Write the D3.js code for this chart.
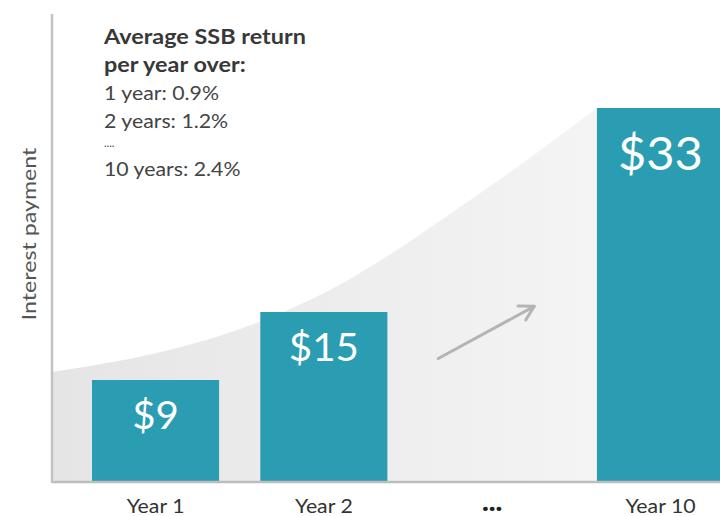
<!DOCTYPE html>
<html><head><meta charset="utf-8">
<script src="https://cdn.jsdelivr.net/npm/d3@7"></script>
<style>body{margin:0;background:#fff} svg{display:block}</style>
</head><body><svg id="c" width="720" height="516"></svg>
<script>
// ---- data ----
const categories = ["Year 1", "Year 2", "...", "Year 10"];
const values = [9, 15, null, 33];
const valueLabels = ["$9", "$15", null, "$33"];
// decorative growth curve (category index, dollars)
const curveIndex = [-0.615, -0.389, 0.104, 0.644, 1.037, 1.453, 1.809, 2.207, 2.622];
const curveValue = [9.71, 10.24, 11.74, 14.29, 16.94, 20.65, 24.26, 28.41, 33.0];
const arrowFrom = [1.68, 10.9];
const arrowTo = [2.25, 15.5];
const yLabel = "Interest payment";
const noteTitle = ["Average SSB return", "per year over:"];
const noteLines = ["1 year: 0.9%", "2 years: 1.2%", "....", "10 years: 2.4%"];

// ---- layout ----
const W = 720, H = 516;
const axisX = 52, baseY = 482, topY = 14;
const svg = d3.select("#c");
const font = "Lato, 'Open Sans', sans-serif";

function widen(sel, f) {
  sel.each(function () {
    const n = this.getComputedTextLength();
    d3.select(this).attr("textLength", n * f).attr("lengthAdjust", "spacingAndGlyphs");
  });
}

const x = d3.scaleBand().domain(categories).range([92, 724]).paddingInner(0.245).paddingOuter(0);
const xi = d3.scaleLinear().domain([0, 3])
  .range([x(categories[0]) + x.bandwidth() / 2, x(categories[3]) + x.bandwidth() / 2]);
const y = d3.scaleLinear().domain([0, 33]).range([baseY, 108]);

// gradient
const defs = svg.append("defs");
const g = defs.append("linearGradient").attr("id", "gr").attr("x1", "0").attr("x2", "1").attr("y1", "0").attr("y2", "0");
g.append("stop").attr("offset", "0").attr("stop-color", "#e5e5e5");
g.append("stop").attr("offset", "1").attr("stop-color", "#f4f4f4");

defs.append("marker").attr("id", "ah").attr("viewBox", "0 0 20 20")
  .attr("refX", 17).attr("refY", 10).attr("markerWidth", 20).attr("markerHeight", 20)
  .attr("markerUnits", "userSpaceOnUse").attr("orient", "auto")
  .append("path").attr("d", "M3,2 L17,10 L3,18").attr("fill", "none")
  .attr("stroke", "#b4b4b4").attr("stroke-width", 3).attr("stroke-linecap", "round").attr("stroke-linejoin", "round");

// area
const pts = curveIndex.map((d, i) => [d, curveValue[i]]);
const area = d3.area().x(d => xi(d[0])).y0(y(0)).y1(d => y(d[1])).curve(d3.curveMonotoneX);
svg.append("path").datum(pts).attr("d", area).attr("fill", "url(#gr)");

// bars
const bars = categories.map((c, i) => ({ c, v: values[i], l: valueLabels[i] })).filter(d => d.v != null);
svg.selectAll("rect.bar").data(bars).enter().append("rect")
  .attr("class", "bar")
  .attr("x", d => x(d.c)).attr("width", x.bandwidth())
  .attr("y", d => y(d.v)).attr("height", d => y(0) - y(d.v))
  .attr("fill", "#2a9db2");

const vals = svg.selectAll("text.val").data(bars).enter().append("text")
  .attr("class", "val")
  .attr("x", d => x(d.c) + x.bandwidth() / 2)
  .attr("y", d => y(d.v) + (d.v > 30 ? 62 : 49))
  .attr("text-anchor", "middle")
  .attr("font-family", font)
  .attr("font-size", d => d.v > 30 ? 46 : 38)
  .attr("fill", "#fff")
  .text(d => d.l);
widen(vals, 1.06);

// arrow
svg.append("line")
  .attr("x1", xi(arrowFrom[0])).attr("y1", y(arrowFrom[1]))
  .attr("x2", xi(arrowTo[0])).attr("y2", y(arrowTo[1]))
  .attr("stroke", "#b4b4b4").attr("stroke-width", 3).attr("stroke-linecap", "round")
  .attr("marker-end", "url(#ah)");

// axes lines
svg.append("line").attr("x1", axisX).attr("x2", W).attr("y1", baseY).attr("y2", baseY)
  .attr("stroke", "#bdbdbd").attr("stroke-width", 2.5);
svg.append("line").attr("x1", axisX).attr("x2", axisX).attr("y1", topY).attr("y2", baseY + 1)
  .attr("stroke", "#c2c2c2").attr("stroke-width", 2.5);

// x axis labels
const xa = svg.append("g").attr("transform", `translate(0,${baseY})`)
  .call(d3.axisBottom(x).tickSize(0).tickPadding(18));
xa.select(".domain").remove();
xa.selectAll("text").attr("font-family", font).attr("font-size", 18.5).attr("fill", "#333");
const dots = xa.selectAll(".tick").filter(d => d === "...").select("text");
dots.attr("font-size", 26).attr("font-weight", 900).attr("y", 0).attr("dy", "29px").attr("fill", "#222");
widen(xa.selectAll(".tick").filter(d => d !== "...").select("text"), 1.15);
widen(dots, 1.1);

// y label
const yl = svg.append("text").attr("transform", `translate(36,234) rotate(-90)`)
  .attr("text-anchor", "middle").attr("font-family", font).attr("font-size", 19)
  .attr("fill", "#555").text(yLabel);
widen(yl, 1.22);

// note
const note = svg.append("g").attr("font-family", font);
const titles = note.selectAll("text.t").data(noteTitle).enter().append("text").attr("class", "t")
  .attr("x", 104).attr("y", (d, i) => 44 + i * 28)
  .attr("font-size", 20).attr("font-weight", 700).attr("fill", "#383838").text(d => d);
widen(titles, 1.17);
const lineY = [100, 128, 147, 176];
const lines = note.selectAll("text.l").data(noteLines).enter().append("text").attr("class", "l")
  .attr("x", 104).attr("y", (d, i) => lineY[i])
  .attr("font-size", (d, i) => i === 2 ? 11 : 18.5).attr("fill", "#444").text(d => d);
widen(lines.filter((d, i) => i !== 2), 1.15);
</script></body></html>
